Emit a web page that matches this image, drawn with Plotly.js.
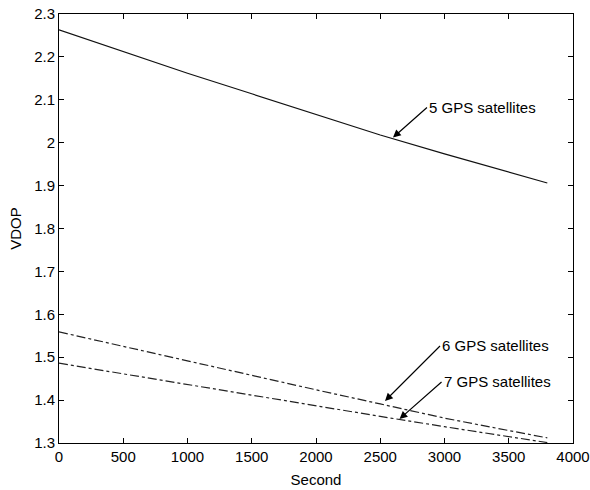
<!DOCTYPE html>
<html>
<head>
<meta charset="utf-8">
<script src="https://cdn.plot.ly/plotly-3.0.1.min.js"></script>
<style>html,body{margin:0;padding:0;background:#fff;}#chart{width:590px;height:490px;}</style>
</head>
<body>
<div id="chart"></div>
<script>
var seconds = [0, 500, 1000, 1500, 2000, 2500, 3000, 3500, 3800];
var vdop5 = [2.263, 2.213, 2.162, 2.114, 2.066, 2.018, 1.974, 1.931, 1.906];
var vdop6 = [1.559, 1.525, 1.491, 1.458, 1.424, 1.391, 1.358, 1.329, 1.312];
var vdop7 = [1.486, 1.461, 1.436, 1.412, 1.387, 1.362, 1.338, 1.315, 1.301];
var seriesNames = ['5 GPS satellites', '6 GPS satellites', '7 GPS satellites'];
var xTicks = [0, 500, 1000, 1500, 2000, 2500, 3000, 3500, 4000];
var yTicks = [1.3, 1.4, 1.5, 1.6, 1.7, 1.8, 1.9, 2, 2.1, 2.2, 2.3];

var fontFam = 'Liberation Sans, Arial, sans-serif';

var traces = [
  {x: seconds, y: vdop5, name: seriesNames[0], mode: 'lines', line: {color: '#111', width: 1.2}},
  {x: seconds, y: vdop6, name: seriesNames[1], mode: 'lines', line: {color: '#222', width: 1.2, dash: 'dashdot'}},
  {x: seconds, y: vdop7, name: seriesNames[2], mode: 'lines', line: {color: '#222', width: 1.2, dash: 'dashdot'}}
];

var axisCommon = {
  showgrid: false, zeroline: false, showline: true, linecolor: '#000', linewidth: 1,
  mirror: 'ticks', ticks: 'inside', ticklen: 5, tickcolor: '#000', tickwidth: 1,
  tickfont: {family: fontFam, size: 15, color: '#000'}
};

var layout = {
  width: 590, height: 490,
  margin: {l: 59, r: 17, t: 14, b: 47},
  paper_bgcolor: '#fff', plot_bgcolor: '#fff',
  showlegend: false,
  font: {family: fontFam, color: '#000'},
  xaxis: Object.assign({}, axisCommon, {
    range: [0, 4000], tickvals: xTicks, ticktext: xTicks.map(String),
    title: {text: 'Second', font: {family: fontFam, size: 15, color: '#000'}, standoff: 10}
  }),
  yaxis: Object.assign({}, axisCommon, {
    range: [1.3, 2.3], tickvals: yTicks, ticktext: yTicks.map(function(v){return String(v);}),
    title: {text: 'VDOP', font: {family: fontFam, size: 15, color: '#000'}, standoff: 8}
  }),
  annotations: [
    {x: 2599, y: 2.012, xref: 'x', yref: 'y', text: seriesNames[0], showarrow: true,
     arrowhead: 2, arrowsize: 1.3, arrowwidth: 1.2, arrowcolor: '#000',
     ax: 34, ay: -30, xanchor: 'left', yanchor: 'middle',
     font: {family: fontFam, size: 15, color: '#000'}},
    {x: 2537, y: 1.398, xref: 'x', yref: 'y', text: seriesNames[1], showarrow: true,
     arrowhead: 2, arrowsize: 1.3, arrowwidth: 1.2, arrowcolor: '#000',
     ax: 55, ay: -55, xanchor: 'left', yanchor: 'middle',
     font: {family: fontFam, size: 15, color: '#000'}},
    {x: 2650, y: 1.356, xref: 'x', yref: 'y', text: seriesNames[2], showarrow: true,
     arrowhead: 2, arrowsize: 1.3, arrowwidth: 1.2, arrowcolor: '#000',
     ax: 42, ay: -37, xanchor: 'left', yanchor: 'middle',
     font: {family: fontFam, size: 15, color: '#000'}}
  ]
};

Plotly.newPlot('chart', traces, layout, {displayModeBar: false, staticPlot: true});
</script>
</body>
</html>
